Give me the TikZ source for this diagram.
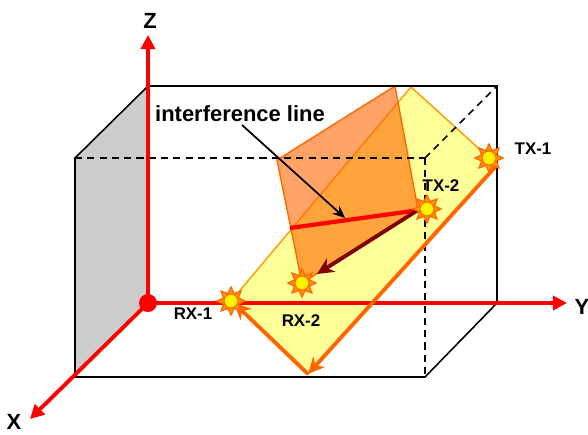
\documentclass[tikz,border=0pt]{standalone}
\usepackage{fontspec}
\setmainfont{Liberation Sans}
\usetikzlibrary{arrows.meta,shapes.geometric}
\definecolor{sunorange}{RGB}{255,102,0}
\definecolor{planeyellow}{RGB}{255,255,153}
\definecolor{planeedge}{RGB}{255,153,0}
\definecolor{darkarrow}{RGB}{128,0,0}
\tikzset{
 axisline/.style={red, line width=2.2pt, -{Triangle[length=8pt,width=8pt]}},
 boxline/.style={black, line width=0.9pt},
 hiddenline/.style={black, line width=0.9pt, dash pattern=on 4pt off 3pt},
 planearrow/.style={sunorange, line width=2.2pt, -{Stealth[length=9.5pt,width=9pt]}},
 sunstar/.style={star, star points=8, star point ratio=1.75, minimum size=16pt, inner sep=0pt, draw=sunorange, fill=planeedge, line width=0.7pt},
 sundisc/.style={circle, minimum size=8pt, inner sep=0pt, draw=sunorange, fill=yellow, line width=0.6pt},
 axislabel/.style={font=\bfseries\fontsize{12.5}{14}\selectfont, inner sep=0pt},
 sunlabel/.style={font=\bfseries\fontsize{9.6}{11}\selectfont, inner sep=0pt}
}
\begin{document}
\begin{tikzpicture}[x=0.02cm, y=-0.02cm]
 \useasboundingbox (0,0) rectangle (588,434);
 % box corners
 \coordinate (flb) at (75,377);
 \coordinate (frb) at (425,377);
 \coordinate (brb) at (497,303);
 \coordinate (brt) at (497,86);
 \coordinate (blt) at (148,86);
 \coordinate (flt) at (75,158);
 \coordinate (frt) at (425,158);
 \coordinate (origin) at (148,303);
 % axis ends
 \coordinate (zend) at (148,35);
 \coordinate (yend) at (567,303);
 \coordinate (xend) at (30,419);
 % transmitters and receivers
 \coordinate (rxone) at (231,301);
 \coordinate (rxtwo) at (302,283);
 \coordinate (txone) at (489,158);
 \coordinate (txtwo) at (427,209);
 % planes
 \coordinate (ytop) at (411,87);
 \coordinate (yright) at (497,165);
 \coordinate (ybottom) at (308,374);
 \coordinate (otop) at (395,86);
 \coordinate (oleft) at (277,160);
 \coordinate (oright) at (418,210);
 \coordinate (linestart) at (290,228);
 \coordinate (callout) at (242,125);
 \coordinate (calloutend) at (345,218);
 \coordinate (rxtwotip) at (317,274);
 \coordinate (rxonetip) at (234,303);

 \fill[black!20] (flt) -- (blt) -- (origin) -- (flb) -- cycle;
 \draw[planeedge, fill=planeyellow, line width=0.8pt] (rxone) -- (ytop) -- (yright) -- (ybottom) -- cycle;
 \draw[sunorange, fill=sunorange, fill opacity=0.6, line width=0.8pt] (oleft) -- (otop) -- (oright) -- (rxtwo) -- cycle;
 \draw[hiddenline] (flt) -- (frt);
 \draw[hiddenline] (frt) -- (brt);
 \draw[hiddenline] (frt) -- (frb);
 \draw[boxline] (flt) -- (blt) -- (brt) -- (brb) -- (frb) -- (flb) -- cycle;
 \draw[boxline] (blt) -- (origin);

 \draw[axisline] (origin) -- (zend);
 \draw[axisline] (origin) -- (yend);
 \draw[axisline] (origin) -- (xend);
 \fill[red] (origin) circle (9);

 \draw[red, line width=2.4pt] (linestart) -- (txtwo);
 \draw[darkarrow, line width=2.2pt, -{Stealth[length=9.5pt,width=9pt]}] (oright) -- (rxtwotip);
 \draw[planearrow] (yright) -- (ybottom);
 \draw[planearrow] (ybottom) -- (rxonetip);
 \draw[black, line width=1pt, -{Stealth[length=7pt,width=6pt]}] (callout) -- (calloutend);

 \node[sunstar] (rxonestar) at (rxone) {};
 \node[sundisc] (rxonedisc) at (rxone) {};
 \node[sunstar] (rxtwostar) at (rxtwo) {};
 \node[sundisc] (rxtwodisc) at (rxtwo) {};
 \node[sunstar] (txonestar) at (txone) {};
 \node[sundisc] (txonedisc) at (txone) {};
 \node[sunstar] (txtwostar) at (txtwo) {};
 \node[sundisc] (txtwodisc) at (txtwo) {};

 \node[axislabel] (zlabel) at (150,21) {Z};
 \node[axislabel] (ylabel) at (582,307) {Y};
 \node[axislabel] (xlabel) at (14,422) {X};
 \node[sunlabel] (rxonelabel) at (193,314) {RX-1};
 \node[sunlabel] (rxtwolabel) at (301,321) {RX-2};
 \node[sunlabel] (txonelabel) at (533,149) {TX-1};
 \node[sunlabel] (txtwolabel) at (441,186) {TX-2};
 \node[font=\bfseries\fontsize{12.5}{14}\selectfont, inner sep=0pt] (linelabel) at (240,114) {interference line};
\end{tikzpicture}
\end{document}
